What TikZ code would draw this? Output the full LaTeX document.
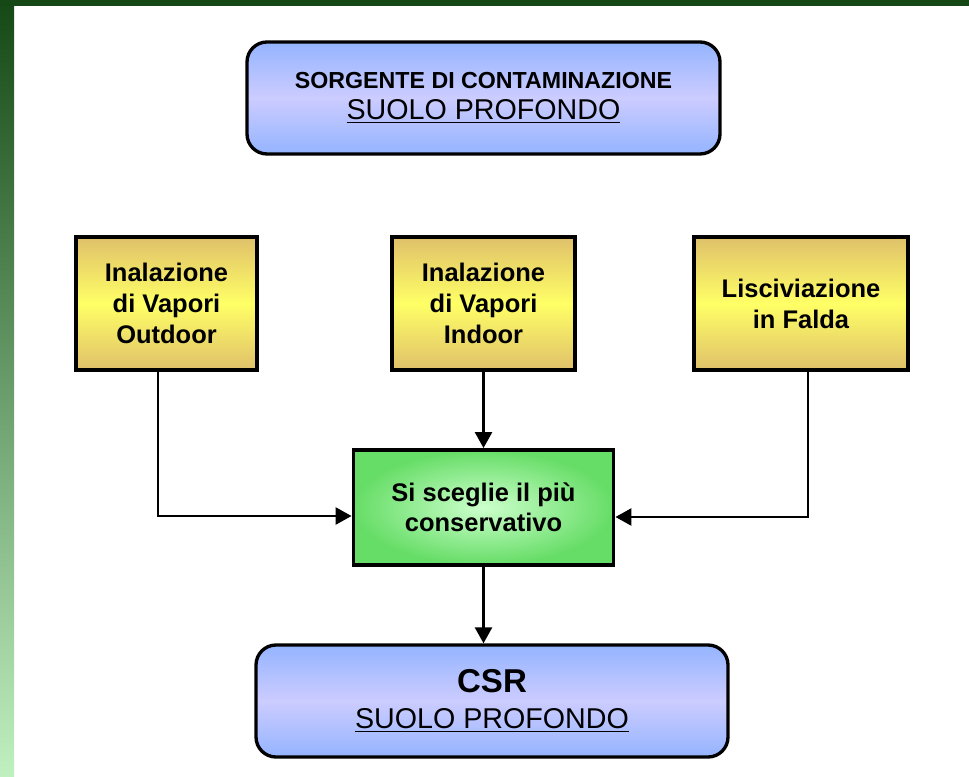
\documentclass[tikz,border=0pt]{standalone}
\usepackage{fontspec}
\setmainfont{Liberation Sans}
\usepackage{xcolor}
\usepackage{tikz}
\usetikzlibrary{positioning,arrows.meta,calc}

\definecolor{framedark}{HTML}{154815}
\definecolor{framelight}{HTML}{C0F0C0}
\definecolor{blueedge}{HTML}{94B4FF}
\definecolor{bluemid}{HTML}{CCCCFF}
\definecolor{yellowedge}{HTML}{DFC06A}
\definecolor{yellowmid}{HTML}{FFFF66}
\definecolor{greenouter}{HTML}{66DD66}
\definecolor{greeninner}{HTML}{CCFFCC}

\begin{document}
\begin{tikzpicture}[
    box/.style={draw=black, align=center, inner sep=0pt, line width=2.2pt},
    sourcebox/.style={box, rounded corners=0.4cm, minimum width=9.46cm, minimum height=2.24cm,
        top color=blueedge, bottom color=blueedge, middle color=bluemid, line width=1.9pt},
    pathbox/.style={box, minimum height=2.66cm, top color=yellowedge, bottom color=yellowedge,
        middle color=yellowmid, font=\fontsize{14.5}{17.6}\selectfont\bfseries},
    choicebox/.style={box, minimum width=5.2cm, minimum height=2.3cm, inner color=greeninner,
        outer color=greenouter, font=\fontsize{14.5}{17.2}\selectfont\bfseries},
    arr/.style={-{Triangle[length=0.32cm, width=0.34cm]}, line width=1.5pt},
]

% frame
\useasboundingbox (0, 0) rectangle (19.38, -15.54);
\fill[white] (0, 0) rectangle (19.38, -15.54);
\shade[top color=framedark, bottom color=framelight] (0, 0) rectangle (0.28, -15.54);
\fill[framedark] (0, 0) rectangle (19.38, -0.12);

\node[sourcebox, font=\fontsize{13.2}{17.6}\selectfont] (src) at (9.67, -1.96)
    {\bfseries SORGENTE DI CONTAMINAZIONE\\{\fontsize{16.3}{17.6}\selectfont\underline{SUOLO PROFONDO}}};

\node[pathbox, minimum width=3.62cm] (outdoor) at (3.33, -6.07) {Inalazione\\di Vapori\\Outdoor};
\node[pathbox, minimum width=3.66cm] (indoor) at (9.67, -6.07) {Inalazione\\di Vapori\\Indoor};
\node[pathbox, minimum width=4.28cm] (falda) at (16.02, -6.07) {Lisciviazione\\in Falda};

\node[choicebox] (choice) at (9.67, -10.15) {Si sceglie il più\\conservativo};

\node[sourcebox, minimum width=9.44cm, font=\fontsize{16.3}{20.4}\selectfont] (csr) at (9.84, -14.02)
    {{\fontsize{18.8}{20.4}\selectfont\bfseries CSR}\\\underline{SUOLO PROFONDO}};

\draw[arr] ([xshift=-0.17cm]outdoor.south) |- ([yshift=-0.17cm]choice.west);
\draw[arr] (indoor) -- (choice);
\draw[arr] ([xshift=0.14cm]falda.south) |- ([yshift=-0.19cm]choice.east);
\draw[arr] (choice.south) -- (choice.south |- csr.north);

\end{tikzpicture}
\end{document}
